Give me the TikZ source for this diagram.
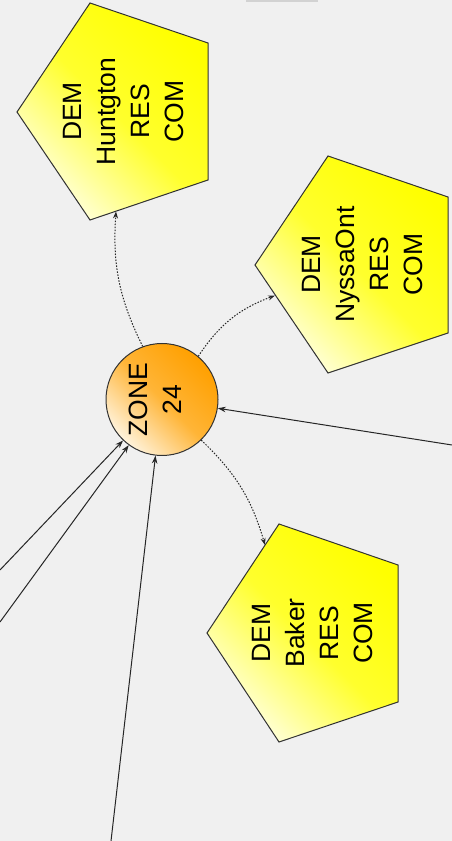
\documentclass[tikz,border=0pt]{standalone}
\usepackage{fontspec}
\setmainfont{Liberation Sans}
\usetikzlibrary{arrows.meta}
\definecolor{bg}{RGB}{240,240,240}
\definecolor{pyel}{RGB}{255,255,0}
\definecolor{plight}{RGB}{255,255,225}
\definecolor{zor}{RGB}{255,160,0}
\definecolor{zlight}{RGB}{255,243,220}
\definecolor{edge}{RGB}{50,50,50}
\begin{document}
\begin{tikzpicture}[x=1pt,y=1pt,
  pent/.style={draw=edge, line width=1pt, bottom color=plight, top color=pyel, middle color=pyel!80!plight, shading angle=-45},
  zone/.style={circle, minimum size=112pt, inner sep=0pt, draw=edge, line width=1pt, bottom color=zlight, top color=zor, middle color=zor!75!zlight, shading angle=-45},
  lbl/.style={rotate=90, align=center, font=\fontsize{26.5}{34}\selectfont, text=black, inner sep=0pt},
  dep/.style={draw=black!85, line width=1pt, dash pattern=on 1.5pt off 1.5pt, -{Stealth[length=7pt,width=5pt]}},
  feed/.style={draw=black!85, line width=1pt, -{Stealth[length=8pt,width=5.5pt]}}]
\useasboundingbox (0,0) rectangle (452,841);
\fill[bg] (0,0) rectangle (452,841);
\fill[gray!35] (246,838.5) rectangle (318,841);

% pentagons
\draw[pent] (90,838) -- (208,798) -- (208,661) -- (90,621) -- (17,729) -- cycle;
\draw[pent] (328,685) -- (448,644) -- (448,508) -- (328,468) -- (255,576) -- cycle;
\draw[pent] (279,317) -- (398,276) -- (398,139) -- (279,99) -- (207,208) -- cycle;

\node[lbl] (ht) at (124,729.5) {DEM\\Huntgton\\RES\\COM};
\node[lbl] (nt) at (363,576.5) {DEM\\NyssaOnt\\RES\\COM};
\node[lbl] (bt) at (313,208) {DEM\\Baker\\RES\\COM};

% zone
\node[zone] (z) at (162,441.5) {};
\node[lbl] (zt) at (155,441.5) {ZONE\\24};

% connector ends
\coordinate (hB) at (116,629.5);
\coordinate (nB) at (275,545.5);
\coordinate (bB) at (265,296);
\coordinate (ra) at (452,396);
\coordinate (la1) at (0,271);
\coordinate (la2) at (0,219);
\coordinate (ba) at (111,0);

\draw[dep] (z.110) to[bend left=15] (hB);
\draw[dep] (z.50) to[bend left=18] (nB);
\draw[dep] (z.-46) to[bend left=15] (bB);

\draw[feed] (ra) -- (z);
\draw[feed] (la1) -- (z);
\draw[feed] (la2) -- (z);
\draw[feed] (ba) -- (z);
\end{tikzpicture}
\end{document}
